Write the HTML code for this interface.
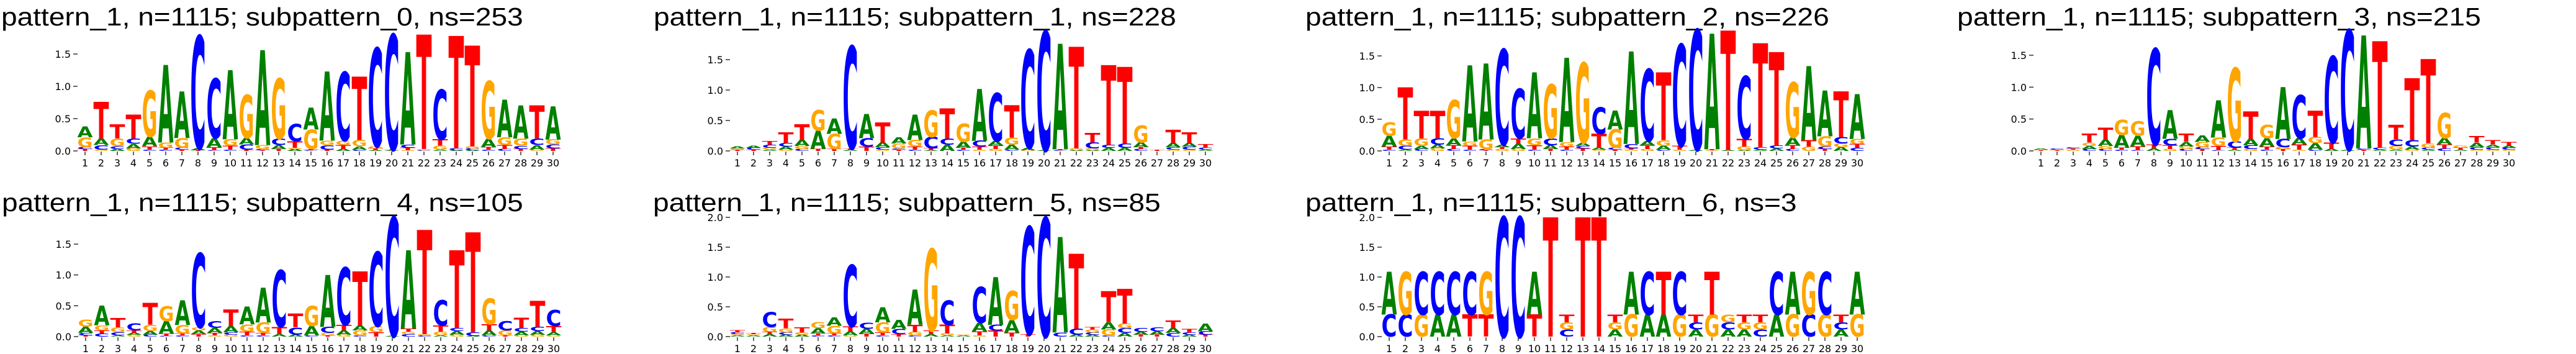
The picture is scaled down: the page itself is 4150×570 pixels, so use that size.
<!DOCTYPE html>
<html><head><meta charset="utf-8"><style>
html,body{margin:0;padding:0;background:#fff;width:4150px;height:570px;overflow:hidden;}
svg{display:block;}
</style></head><body>
<svg id="fig" width="4150" height="570" viewBox="0 0 4150 570" xmlns="http://www.w3.org/2000/svg" overflow="hidden"></svg>
<script>
// Data: each column is a bottom-to-top stack "Letter+height(bits)"
const positions = [1,2,3,4,5,6,7,8,9,10,11,12,13,14,15,16,17,18,19,20,21,22,23,24,25,26,27,28,29,30];
const titles = [
 "pattern_1, n=1115; subpattern_0, ns=253",
 "pattern_1, n=1115; subpattern_1, ns=228",
 "pattern_1, n=1115; subpattern_2, ns=226",
 "pattern_1, n=1115; subpattern_3, ns=215",
 "pattern_1, n=1115; subpattern_4, ns=105",
 "pattern_1, n=1115; subpattern_5, ns=85",
 "pattern_1, n=1115; subpattern_6, ns=3"
];
const yTicks15 = [0,0.5,1.0,1.5];
const yTicks20 = [0,0.5,1.0,1.5,2.0];
const sub0 = ["T.03 C.03 G.15 A.17","G.02 C.07 A.1 T.57","A.03 C.04 G.12 T.22","G.04 A.07 C.08 T.37","C.02 T.05 A.15 G.71","C.02 T.03 G.08 A1.2","T.02 C.03 G.15 A.72","T.01 A.03 C1.74","C.01 T.05 A.14 C.92","C.02 T.06 G.1 A1.07","T.02 C.08 A.1 G.67","T.01 C.02 G.06 A1.47","T.03 A.06 C.1 G.93","A.03 G.02 T.1 C.27","C.01 T.02 G.3 A.34","T.02 C.07 G.07 A1.07","A.03 T.06 G.07 C1.06","C.02 A.05 G.1 T.98","A.01 T.03 G.03 C1.52","A.01 T.01 C1.78","G.01 T.04 C.05 A1.43","C.01 G.02 T1.77","A.02 G.06 T.1 C.77","A.01 C.03 T1.74","A.01 C.03 G.03 T1.56","C.02 T.04 A.13 G.89","C.03 T.06 G.12 A.58","T.03 C.05 G.11 A.51","G.02 A.07 C.1 T.51","T.04 C.06 G.08 A.51"];
const sub1 = ["T.02 G.02 A.03","T.02 C.03 A.03","A.02 G.03 C.05 T.06","G.02 A.05 C.06 T.18","C.03 G.05 A.1 T.26","T.03 A.3 G.34","T.03 G.25 A.25","A.02 T.02 C1.68","T.07 C.14 A.4","G.02 C.04 A.08 T.33","T.02 C.02 G.08 A.1","C.02 T.05 G.11 A.42","A.01 T.03 C.19 G.44","A.1 C.1 T.5","C.02 T.03 A.1 G.3","G.02 T.05 C.1 A.85","G.03 T.06 A.07 C.79","C.02 A.08 G.12 T.53","G.01 A.04 C1.61","A.01 C1.95","C.01 T.02 A1.73","A.01 G.03 T1.67","A.01 G.03 C.1 T.16","A.05 C.05 T1.31","A.05 C.07 T1.26","C.03 T.03 A.08 G.28","T.02","G.02 C.04 A.07 T.22","G.02 C.05 A.06 T.18","A.02 C.03 T.06"];
const sub2 = ["C.02 T.05 A.17 G.21","A.02 C.06 G.1 T.82","C.03 A.05 G.12 T.43","G.04 A.06 C.1 T.43","C.03 T.06 A.11 G.6","C.02 T.06 G.07 A1.2","T.01 C.02 G.15 A1.2","G.03 T.03 A.04 C1.5","G.03 A.08 T.09 C.78","C.02 T.07 G.11 A1.04","T.03 A.06 C.11 G.85","C.02 T.05 G.07 A1.33","T.04 C.04 A.05 G1.26","G.02 A.03 T.22 C.42","T.02 C.03 G.29 A.3","G.02 T.02 C.07 A1.46","G.03 T.06 A.07 C1.13","C.02 A.06 G.09 T1.07","G.02 T.06 C1.6","A.02 C1.89","G.01 T.02 A1.82","A.01 T1.89","A.01 G.06 T.12 C.99","A.02 C.04 T1.64","A.04 C.05 T1.47","C.03 T.06 A.12 G.87","G.07 T.1 A1.17","T.03 C.04 G.16 A.72","A.06 G.06 C.1 T.72","C.05 T.06 G.08 A.71"];
const sub3 = ["T.01 G.01 A.02","T.01 G.01 C.02","G.02 T.02 C.02","C.03 A.05 G.05 T.14","C.03 G.05 A.1 T.18","C.02 T.03 A.2 G.24","C.01 T.06 A.17 G.23","A.04 T.06 C1.5","G.03 T.06 C.1 A.45","C.03 G.04 A.07 T.13","T.03 C.03 G.08 A.1","C.01 T.07 G.13 A.58","A.02 T.03 C.1 G1.15","G.03 C.06 A.1 T.43","C.02 T.05 A.13 G.21","T.03 G.03 C.13 A.81","G.02 T.08 A.1 C.68","C.02 A.1 G.1 T.41","A.03 T.1 C1.35","A.02 C1.87","T.02 C.02 A1.77","A.02 C.03 T1.67","A.02 G.06 C.1 T.23","G.02 A.05 C.1 T.97","A.02 C.03 G.07 T1.32","C.04 T.06 A.1 G.4","A.02 T.03 G.04","G.02 C.04 A.07 T.1","G.02 C.04 A.04 T.07","G.02 C.03 A.03 T.06"];
const sub4 = ["T.02 C.04 A.1 G.12","C.05 T.05 G.08 A.32","A.02 C.05 G.08 T.15","G.03 A.03 T.04 C.12","C.03 A.06 G.1 T.35","C.01 T.04 A.2 G.24","C.02 T.03 G.14 A.4","T.04 A.06 G.05 C1.2","G.02 T.04 A.08 C.11","G.03 C.04 A.1 T.27","C.02 T.06 G.12 A.29","C.02 T.04 G.17 A.56","A.04 T.12 C.92","A.03 C.12 T.22","C.02 A.15 G.33","T.02 G.04 C.1 A.84","G.03 A.07 T.09 C.93","C.02 G.08 A.08 T.88","T.07 G.1 C1.2","A.01 C1.92","C.04 G.04 T.05 A1.27","C.02 G.02 T1.69","A.02 G.06 T.1 C.41","G.03 A.06 C.05 T1.26","A.01 C.06 T1.62","C.02 A.08 T.1 G.42","T.02 G.08 C.15","G.02 A.06 C.06 T.16","G.03 A.06 C.07 T.42","G.02 A.05 T.1 C.26"];
const sub5 = ["A.02 G.02 C.03 T.04","A.02 G.02 T.02","A.04 T.04 G.08 C.25","A.03 C.04 G.07 T.16","A.03 G.04 T.09","C.02 T.03 A.09 G.1","C.02 T.03 G.13 A.14","G.02 A.07 T.08 C1.03","T.05 A.08 C.1","C.02 T.05 G.17 A.25","T.04 C.09 A.15","C.02 G.06 T.12 A.59","A.04 T.06 G1.37","A.02 G.03 T.15 C.41","A.02 G.01","G.02 T.07 A.14 C.6","T.1 C.1 A.8","T.07 A.21 G.49","T.04 C1.8","C1.99","C.07 A1.6","A.03 C.1 T1.26","A.03 C.04 G.05 T.04","C.02 G.1 A.12 T.52","A.06 C.08 G.08 T.58","T.03 A.05 C.07","T.03 A.06 C.07","C.06 A.08 T.13","A.03 C.04 T.06","T.03 C.06 A.13"];
const sub6 = ["C.37 A.72","C.37 G.72","G.37 C.72","A.37 C.72","A.37 C.72","T.37 C.72","T.37 G.72","C2.0","C2.0","T.37 A.72","T2.0","C.12 G.12 T.13","T2.0","T2.0","A.12 G.12 T.13","G.37 A.72","A.37 C.72","A.37 T.72","G.37 C.72","A.12 C.12 T.13","G.37 T.72","A.12 C.12 G.13","A.12 G.12 T.13","C.12 G.12 T.13","A.37 C.72","G.37 A.72","C.37 G.72","G.37 C.72","A.12 C.12 T.13","G.37 A.72"];
const panelData = [sub0,sub1,sub2,sub3,sub4,sub5,sub6];

// layout (not data)
const layout = [
 {col1:137, base:243, unit:104,   tx:2,    tw:841, ty:41,  ticks:yTicks15},
 {col1:1188,base:243, unit:98,    tx:1053, tw:842, ty:41,  ticks:yTicks15},
 {col1:2238,base:243, unit:102,   tx:2103, tw:844, ty:41,  ticks:yTicks15},
 {col1:3288,base:243, unit:102.7, tx:3153, tw:844, ty:41,  ticks:yTicks15},
 {col1:138, base:542, unit:99.3,  tx:3,    tw:840, ty:340, ticks:yTicks15},
 {col1:1188,base:542, unit:96,    tx:1052, tw:818, ty:340, ticks:yTicks20},
 {col1:2238,base:542, unit:96,    tx:2103, tw:792, ty:340, ticks:yTicks20}
];
const colors = {A:"#008000",C:"#0000ff",G:"#ffa500",T:"#ff0000"};
const NS="http://www.w3.org/2000/svg";
const svg=document.getElementById('fig');
const STEP=26, CW=25, CAP=72.9;
function mk(tag,attrs,parent){const e=document.createElementNS(NS,tag);for(const k in attrs)e.setAttribute(k,attrs[k]);parent.appendChild(e);return e;}
const letterW={};
['A','C','G','T'].forEach(l=>{
  const m=mk('text',{x:0,y:-500,'font-family':'"DejaVu Sans", "Liberation Sans", sans-serif','font-weight':'bold','font-size':100},svg);
  m.textContent=l;
  letterW[l]=m.getComputedTextLength()||72;
  svg.removeChild(m);
});

panelData.forEach((cols,pi)=>{
  const L=layout[pi];
  const g=mk('g',{},svg);
  
  
  const xOf=i=>L.col1+(positions[i]-1)*STEP;
  const yOf=v=>L.base-v*L.unit;
  const t=mk('text',{x:0,y:0,'font-family':'"Liberation Sans", sans-serif','font-size':41,fill:'#000'},g);
  t.textContent=titles[pi];
  
  
  const tw0=t.getComputedTextLength()||L.tw;
  t.setAttribute('transform',`translate(${L.tx},${L.ty}) scale(${L.tw/tw0},1)`);
  const ax=L.col1-12;
  L.ticks.forEach(v=>{
    const y=yOf(v);
    const ln=mk('line',{x1:ax-7,x2:ax,y1:y,y2:y,stroke:'#000','stroke-width':1.2},g);
    
    
    const lt=mk('text',{x:ax-11,y:y+6,'text-anchor':'end','font-family':'"DejaVu Sans", sans-serif','font-size':16,fill:'#000'},g);
    lt.textContent=v.toFixed(1);
    
    
  });
  positions.forEach((p,i)=>{
    const x=xOf(i);
    const tk=mk('line',{x1:x,x2:x,y1:L.base+1,y2:L.base+7,stroke:'#000','stroke-width':1.2},g);
    
    
    const xl=mk('text',{x:x,y:L.base+25,'text-anchor':'middle','font-family':'"DejaVu Sans", sans-serif','font-size':16,fill:'#000'},g);
    xl.textContent=p;
    
    
  });
  cols.forEach((spec,i)=>{
    let acc=0;
    const x=xOf(i)-CW/2;
    spec.split(' ').forEach(tok=>{
      const letter=tok[0], h=parseFloat(tok.slice(1));
      const yb=yOf(acc);
      acc+=h;
      const sy=(h*L.unit)/CAP;
      const sx=CW/letterW[letter];
      const le=mk('text',{x:0,y:0,'font-family':'"DejaVu Sans", "Liberation Sans", sans-serif','font-weight':'bold','font-size':100,fill:colors[letter],transform:`translate(${x},${yb}) scale(${sx},${sy})`},g);
      le.textContent=letter;
      
      
    });
  });
});
</script>
</body></html>
